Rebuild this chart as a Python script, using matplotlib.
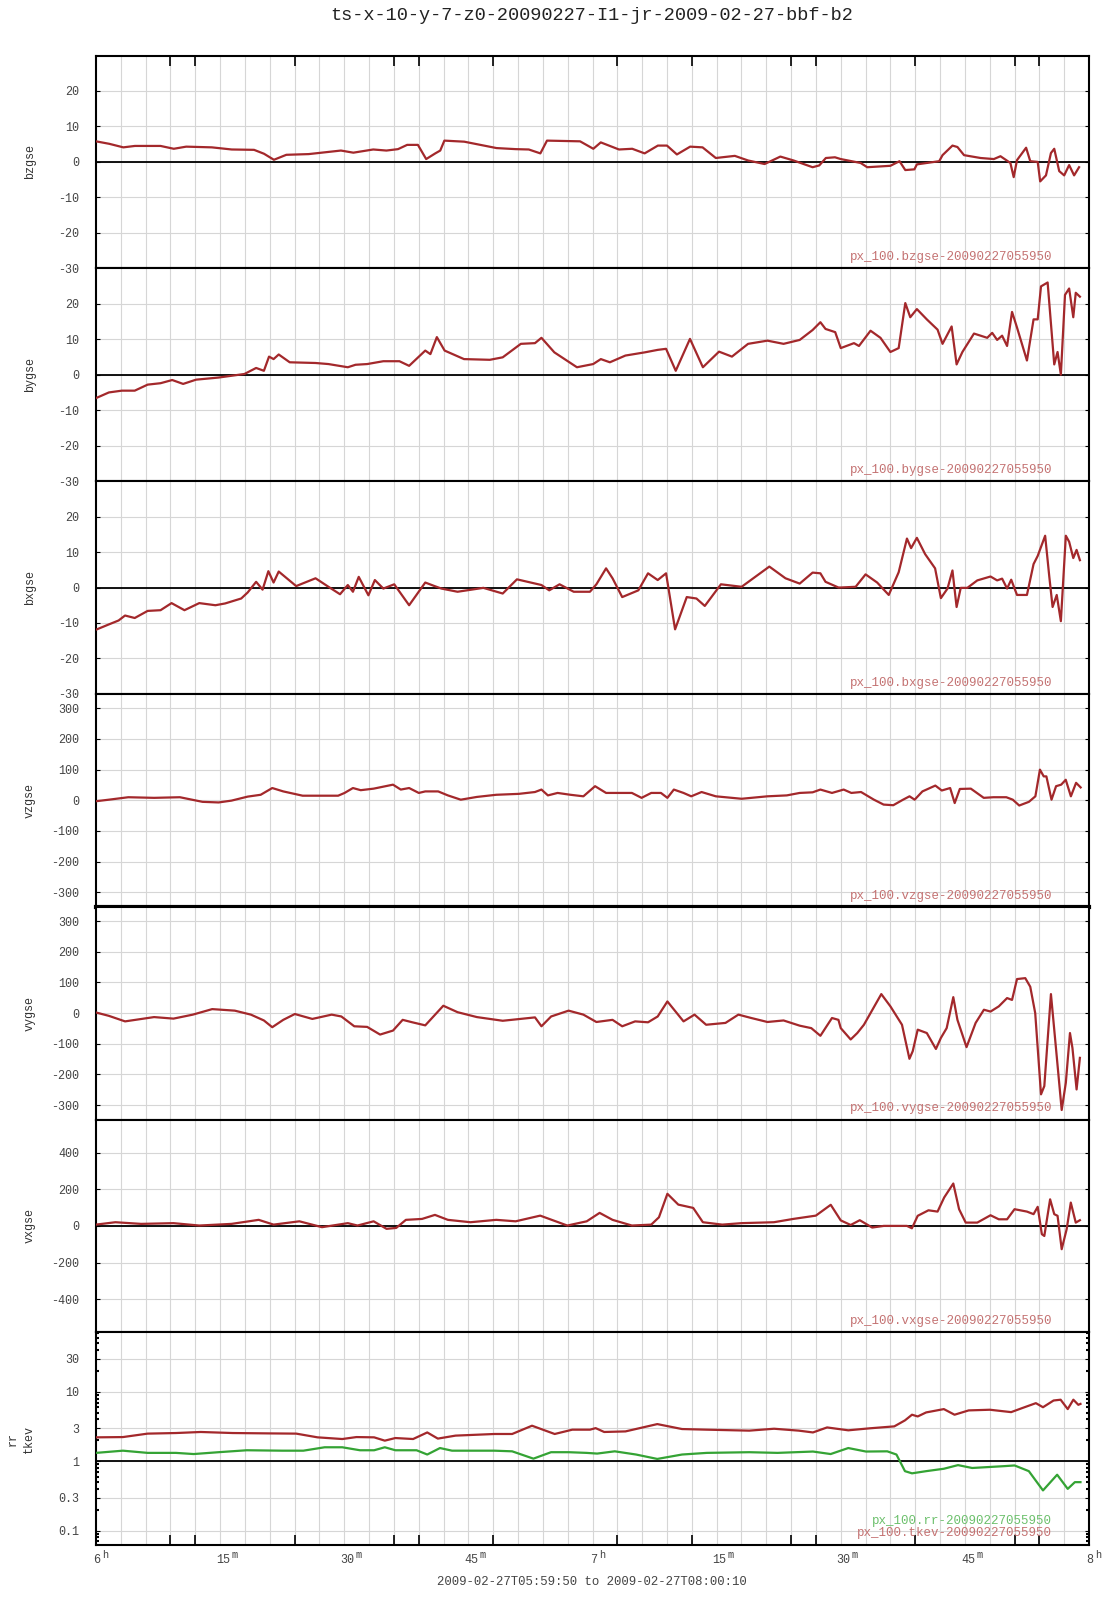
import numpy as np
import matplotlib
matplotlib.use('Agg')
import matplotlib.pyplot as plt
from matplotlib.ticker import FixedLocator, FixedFormatter, LogLocator, NullFormatter
from matplotlib.transforms import blended_transform_factory, offset_copy

plt.rcParams['font.family'] = ['Liberation Mono', 'DejaVu Sans Mono']

# ---- data: time in minutes after 06:00 UT ----
bz_t = [0.0, 1.6, 3.3, 4.7, 7.8, 9.4, 10.9, 14.0, 16.4, 19.1, 20.3, 21.5, 23.0, 25.7, 29.6, 31.1,
        33.5, 35.1, 36.5, 37.6, 38.9, 39.9, 41.0, 41.6, 42.1, 44.5, 48.4, 50.7, 52.3, 53.7, 54.5,
        58.5, 60.1, 61.0, 63.2, 64.8, 66.3, 67.9, 69.0, 70.2, 71.8, 73.3, 74.9, 77.2, 78.8, 80.8,
        82.7, 84.3, 86.6, 87.4, 88.2, 89.3, 90.0, 92.4, 93.2, 96.0, 97.1, 97.8, 98.9, 99.2, 101.9,
        102.3, 103.5, 104.1, 104.9, 106.9, 108.5, 109.3, 110.5, 110.9, 111.3, 112.4, 112.9, 113.8,
        114.1, 114.8, 115.4, 115.8, 116.4, 117.0, 117.6, 118.2, 118.8]
bz_v = [5.8, 5.1, 4.1, 4.5, 4.5, 3.7, 4.3, 4.1, 3.5, 3.4, 2.3, 0.6, 2.0, 2.2, 3.2, 2.6,
        3.5, 3.2, 3.6, 4.8, 4.8, 0.8, 2.4, 3.2, 6.0, 5.7, 3.9, 3.6, 3.5, 2.4, 6.0,
        5.8, 3.7, 5.5, 3.5, 3.7, 2.4, 4.6, 4.6, 2.1, 4.3, 4.1, 1.1, 1.7, 0.4, -0.6,
        1.5, 0.4, -1.5, -1.0, 1.1, 1.3, 0.8, -0.3, -1.5, -1.1, 0.2, -2.3, -2.1, -0.7, 0.2,
        1.9, 4.6, 4.2, 1.9, 1.1, 0.8, 1.6, -0.3, -4.3, 0.5, 4.0, 0.2, 0.0,
        -5.5, -3.8, 2.5, 3.7, -2.6, -3.8, -0.9, -3.8, -1.5]

by_t = [0.0, 1.56, 3.12, 4.68, 6.24, 7.8, 9.21, 10.53, 12.09, 14.82, 17.94, 19.35, 20.29, 20.91,
        21.46, 22.08, 23.41, 26.53, 28.09, 30.43, 31.36, 32.77, 34.72, 36.67, 37.84, 39.79, 40.41,
        41.19, 42.13, 44.47, 47.59, 49.15, 51.34, 53.05, 53.83, 55.39, 58.12, 60.08, 61.01, 62.1,
        63.98, 66.32, 67.88, 68.89, 70.06, 71.78, 73.34, 75.29, 76.85, 78.8, 81.14, 83.09, 85.04,
        86.6, 87.54, 88.16, 89.33,
        90.0, 91.6, 92.2, 93.6, 94.8, 96.0, 97.0, 97.8, 98.4, 99.2, 100.4, 101.7, 102.3, 103.4,
        104.0, 104.7, 106.1, 107.7, 108.3, 108.9, 109.5, 110.1, 110.7, 111.3, 112.5, 113.3, 113.8,
        114.2, 115.0, 115.8, 116.2, 116.6, 117.1, 117.6, 118.1, 118.4, 118.9]
by_v = [-6.6, -5.0, -4.5, -4.5, -2.8, -2.4, -1.5, -2.6, -1.4, -0.8, 0.2, 1.9, 1.1, 5.1,
        4.4, 5.7, 3.5, 3.3, 3.0, 2.1, 2.8, 3.0, 3.8, 3.8, 2.5, 6.8, 5.8,
        10.6, 6.8, 4.4, 4.2, 4.9, 8.7, 8.9, 10.4, 6.3, 2.1, 3.0, 4.4, 3.5,
        5.4, 6.3, 7.0, 7.3, 1.1, 10.1, 2.1, 6.5, 5.1, 8.7, 9.6, 8.7, 9.8,
        12.6, 14.8, 12.9, 12.0,
        7.5, 8.9, 8.1, 12.4, 10.4, 6.4, 7.5, 20.2, 16.2, 18.5, 15.6, 12.7, 8.7, 13.6,
        2.9, 6.4, 11.6, 10.4, 11.8, 9.8, 11.0, 8.1, 17.7, 13.3, 4.0, 15.6, 15.6,
        24.9, 26.0, 2.9, 6.4, 0.0, 22.5, 24.3, 16.2, 23.1, 22.0]

bx_t = [0.0, 1.56, 2.73, 3.51, 4.68, 6.24, 7.8, 9.13, 10.69, 12.48, 14.43, 15.6, 17.55, 18.33,
        19.35, 20.13, 20.83, 21.46, 22.08, 24.19, 26.53, 28.09, 29.49, 30.43, 31.05, 31.75, 32.92,
        33.7, 34.72, 36.04, 37.84, 39.79, 40.8, 41.74, 43.69, 46.81, 49.15, 50.87, 53.83, 54.77,
        56.02, 57.73, 59.69, 60.47, 61.64, 62.42, 63.59, 65.54, 66.71, 67.88, 68.89, 69.98, 71.39,
        72.56, 73.57, 75.52, 78.02, 81.37, 83.32, 85.04, 86.6, 87.54, 88.16, 89.72,
        90.0, 91.8, 93.0, 94.4, 95.8, 97.0, 98.0, 98.5, 99.2, 100.2, 101.4, 102.1, 102.9, 103.5,
        104.0, 104.5, 105.3, 106.5, 108.1, 108.9, 109.5, 110.1, 110.6, 111.3, 112.5, 113.3, 113.8,
        114.7, 115.2, 115.6, 116.1, 116.6, 117.2, 117.6, 118.1, 118.5, 118.9]
bx_v = [-11.9, -10.4, -9.3, -7.9, -8.6, -6.6, -6.4, -4.4, -6.4, -4.4, -5.0, -4.5, -3.1, -1.4,
        1.6, -0.6, 4.6, 1.4, 4.5, 0.4, 2.6, 0.2, -1.9, 0.7, -1.2, 3.0, -2.2,
        2.1, -0.3, 0.9, -5.0, 1.4, 0.5, -0.3, -1.2, -0.1, -1.7, 2.3, 0.7, -0.8,
        0.9, -1.2, -1.2, 0.9, 5.4, 2.6, -2.7, -0.8, 4.0, 2.1, 4.0, -11.8, -2.7,
        -3.1, -5.2, 0.9, 0.2, 5.9, 2.6, 1.1, 4.2, 4.0, 1.6, 0.0,
        0.0, 0.2, 3.7, 1.4, -2.1, 4.3, 13.8, 11.1, 14.0, 9.4, 5.4, -3.0, -0.3, 4.8,
        -5.5, -0.1, -0.1, 2.0, 3.1, 2.0, 2.5, -0.3, 2.2, -2.1, -2.1, 6.6, 8.9,
        14.6, 3.1, -5.5, -2.1, -9.5, 14.6, 12.9, 8.3, 10.6, 7.7]

vz_t = [0.0, 1.56, 3.9, 7.02, 10.14, 12.87, 14.82, 16.38, 18.33, 19.9, 21.3, 22.63, 24.97, 29.26,
        30.04, 31.05, 31.99, 33.55, 35.89, 36.83, 37.84, 39.01, 39.79, 41.35, 42.52, 44.08, 46.03,
        48.37, 51.1, 53.05, 53.83, 54.61, 55.78, 57.34, 58.9, 60.31, 61.64, 63.2, 64.76, 65.93,
        67.1, 68.27, 69.05, 69.83, 71.0, 71.93, 73.18, 74.9, 78.02, 81.14, 83.48, 85.04, 86.6,
        87.54, 88.94, 90.35, 91.28, 92.45, 94.01, 95.18, 96.35, 97.53, 98.31, 98.93, 99.87, 101.43,
        102.21, 103.22, 103.77, 104.39, 105.72, 107.28, 108.45, 110.01, 110.79, 111.57, 112.74,
        113.52, 114.07, 114.53, 114.85, 115.47, 116.02, 116.64, 117.19, 117.81, 118.44, 118.99]
vz_v = [-3, 2, 10, 8, 10, -5, -7, -1, 12, 18, 40, 29, 15, 15,
        24, 40, 33, 38, 51, 35, 40, 24, 29, 29, 16, 2, 11,
        18, 21, 27, 35, 16, 24, 18, 13, 46, 24, 24, 24, 8,
        24, 24, 8, 35, 24, 13, 27, 13, 5, 13, 16, 24, 26,
        35, 24, 35, 24, 27, 2, -14, -16, 2, 13, 2, 29, 48,
        32, 40, -9, 37, 38, 8, 10, 10, 2, -17, -5,
        13, 100, 78, 78, 2, 46, 51, 67, 13, 57, 42]

vy_t = [0.0, 1.56, 3.51, 7.02, 9.36, 11.7, 14.04, 16.77, 18.72, 20.29, 21.3, 22.63, 24.03, 26.14,
        28.48, 29.65, 31.21, 32.77, 34.33, 35.89, 37.06, 38.23, 39.79, 41.97, 43.69, 46.03, 49.15,
        53.05, 53.83, 55.0, 57.11, 58.9, 60.47, 62.42, 63.59, 65.15, 66.71, 67.88, 69.05, 71.0,
        72.33, 73.73, 76.07, 77.63, 79.19, 81.14, 83.09, 85.04, 86.44, 87.54, 88.94, 89.72,
        90.0, 91.2, 92.0, 92.8, 94.9, 96.0, 97.4, 98.3, 98.7, 99.3, 100.4, 101.5, 102.1, 102.8,
        103.6, 104.1, 105.2, 106.3, 107.3, 108.1, 109.1, 110.1, 110.7, 111.3, 112.3, 112.9, 113.5,
        114.2, 114.6, 115.4, 116.1, 116.7, 117.2, 117.7, 118.0, 118.5, 118.9]
vy_v = [2, -9, -27, -13, -18, -5, 13, 8, -5, -24, -46, -22, -3, -19,
        -5, -11, -43, -45, -70, -57, -22, -30, -40, 24, 3, -13, -25,
        -14, -43, -11, 8, -5, -29, -22, -43, -27, -30, -11, 38, -27,
        -5, -38, -32, -5, -16, -29, -24, -41, -49, -74, -16, -22,
        -49, -86, -65, -38, 62, 22, -38, -149, -124, -54, -65, -117, -81, -49,
        52, -22, -111, -32, 11, 5, 22, 49, 43, 111, 114, 86, 0,
        -265, -238, 62, -141, -316, -227, -65, -114, -249, -146]

vx_t = [0.0, 2.34, 5.46, 9.36, 12.48, 16.38, 19.66, 21.46, 24.58, 27.31, 30.43, 31.6, 33.55, 35.11,
        36.28, 37.45, 39.4, 40.96, 42.52, 45.25, 48.37, 50.71, 53.68, 56.95, 59.3, 60.86, 62.42,
        64.76, 67.1, 68.03, 69.05, 70.37, 72.17, 73.34, 75.68, 78.02, 81.92, 84.26, 86.99, 88.79,
        90.0, 91.2, 92.3, 93.8, 95.2, 98.0, 98.6, 99.3, 100.6, 101.7, 102.5, 103.6, 104.3, 105.1,
        106.5, 108.1, 109.1, 110.1, 111.0, 112.5, 113.3, 113.8, 114.3, 114.6, 115.3, 115.8, 116.2,
        116.7, 117.3, 117.8, 118.4, 118.9]
vx_v = [7, 20, 11, 15, 2, 11, 33, 7, 25, -7, 15, 2, 25, -16,
        -11, 33, 38, 60, 33, 20, 33, 25, 56, 2, 25, 71, 33,
        2, 7, 47, 175, 116, 98, 20, 7, 15, 20, 38, 56, 115,
        30, 5, 31, -9, 0, 0, -13, 55, 85, 78, 155, 231, 91, 18,
        18, 58, 36, 36, 91, 78, 64, 104, -45, -55, 145, 64, 55,
        -127, -18, 127, 18, 31]

tkev_t = [0.0, 3.25, 6.24, 9.66, 12.66, 16.51, 20.78, 24.2, 26.77, 29.76, 31.47, 33.61, 34.9, 36.18,
          38.32, 40.03, 41.31, 43.45, 48.15, 50.29, 52.69, 55.43, 57.56, 59.7, 60.38, 61.41, 63.98,
          67.83, 70.82, 73.81, 78.94, 81.94, 84.93, 86.64, 88.35, 90.91, 93.48, 96.47, 97.76, 98.61,
          99.3, 100.32, 102.46, 103.75, 105.46, 108.02, 110.59, 111.87, 113.58, 114.44, 115.72,
          116.57, 117.43, 118.11, 118.71, 118.97]
tkev_v = [2.21, 2.23, 2.5, 2.55, 2.64, 2.55, 2.52, 2.5, 2.21, 2.09, 2.23, 2.21, 1.98, 2.16,
          2.09, 2.6, 2.12, 2.34, 2.47, 2.47, 3.25, 2.47, 2.85, 2.85, 3.0, 2.64, 2.69,
          3.43, 2.91, 2.85, 2.76, 2.94, 2.76, 2.6, 3.07, 2.79, 2.98, 3.18, 3.88, 4.68,
          4.42, 5.05, 5.64, 4.68, 5.4, 5.52, 5.1, 5.8, 6.87, 6.0, 7.5,
          7.7, 5.64, 7.7, 6.5, 6.7]

rr_t = [0.0, 3.25, 6.24, 9.66, 11.8, 14.8, 18.22, 22.49, 25.06, 27.63, 29.76, 31.9, 33.61, 34.9,
        36.18, 38.74, 40.03, 41.57, 43.02, 48.15, 50.29, 52.86, 54.99, 57.14, 59.27, 60.56, 62.69,
        65.26, 67.83, 70.82, 73.81, 78.94, 82.36, 86.64, 88.78, 90.91, 93.05, 95.62, 96.73, 97.76,
        98.61, 100.32, 102.46, 104.17, 105.88, 109.73, 111.01, 112.73, 114.44, 116.15, 117.43,
        118.29, 118.97]
rr_v = [1.32, 1.42, 1.32, 1.32, 1.27, 1.35, 1.44, 1.42, 1.42, 1.59, 1.59, 1.44, 1.44, 1.59,
        1.44, 1.44, 1.25, 1.55, 1.42, 1.42, 1.39, 1.09, 1.35, 1.35, 1.32, 1.29, 1.39,
        1.25, 1.08, 1.25, 1.32, 1.35, 1.32, 1.38, 1.27, 1.55, 1.38, 1.39, 1.25, 0.72,
        0.67, 0.72, 0.78, 0.88, 0.8, 0.85, 0.87, 0.72, 0.38, 0.64, 0.40,
        0.5, 0.5]

x_ticks = [0, 15, 30, 45, 60, 75, 90, 105, 120]
x_nums = ['6', '15', '30', '45', '7', '15', '30', '45', '8']
x_sups = ['h', 'm', 'm', 'm', 'h', 'm', 'm', 'm', 'h']
odd_ticks = [9, 12, 24, 36, 39, 48, 60, 63, 72, 75, 84, 87, 99, 111, 114]

RED = '#a3282b'
GREEN = '#34a334'
TXT_RED = '#c47272'
TXT_GREEN = '#6cc06c'
GRID = '#d6d6d6'

# name, times, values, ylim, yticks, zero line
panels = [
    ('bzgse', bz_t, bz_v, (-30, 30), [-30, -20, -10, 0, 10, 20], True),
    ('bygse', by_t, by_v, (-30, 30), [-30, -20, -10, 0, 10, 20], True),
    ('bxgse', bx_t, bx_v, (-30, 30), [-30, -20, -10, 0, 10, 20], True),
    ('vzgse', vz_t, vz_v, (-347, 347), [-300, -200, -100, 0, 100, 200, 300], False),
    ('vygse', vy_t, vy_v, (-347, 347), [-300, -200, -100, 0, 100, 200, 300], False),
    ('vxgse', vx_t, vx_v, (-580, 580), [-400, -200, 0, 200, 400], True),
]

W, H = 1107, 1600
X0, X1 = 96, 1089
TOP, PH = 55.5, 212.8

fig = plt.figure(figsize=(W / 100, H / 100), dpi=100)
fig.patch.set_facecolor('white')


def make_axes(i):
    ax = fig.add_axes([X0 / W, 1 - (TOP + (i + 1) * PH) / H, (X1 - X0) / W, PH / H])
    ax.set_xlim(0, 120)
    for m in range(3, 120, 3):
        ax.axvline(m, color=GRID, lw=0.8, zorder=0)
    for s in ax.spines.values():
        s.set_color('black')
        s.set_linewidth(1.5)
    ax.set_xticks(x_ticks)
    ax.set_xticks(odd_ticks, minor=True)
    ax.tick_params(axis='x', which='major', length=0, labelbottom=False)
    ax.tick_params(axis='x', which='minor', direction='in', length=7, width=1.2,
                   top=(i == 0), bottom=(i == 6))
    ax.tick_params(axis='y', which='both', direction='in', length=3, left=True, right=True,
                   labelsize=8.5, labelcolor='#444444', pad=12)
    ax.grid(axis='y', which='major', color=GRID, lw=0.8)
    ax.set_axisbelow(True)
    return ax


axes = []
for i, (name, t, v, ylim, yt, zero) in enumerate(panels):
    ax = make_axes(i)
    ax.set_ylim(*ylim)
    ax.set_yticks(yt)
    ax.set_yticklabels([str(k) for k in yt])
    if zero:
        ax.axhline(0, color='black', lw=1.3, zorder=2)
    ax.plot(t, v, color=RED, lw=1.6, zorder=3)
    ax.text(0.963, 0.052, 'px_100.' + name + '-20090227055950', transform=ax.transAxes,
            ha='right', va='center', fontsize=9, color=TXT_RED)
    cy = TOP + (i + 0.5) * PH
    fig.text(30 / W, 1 - cy / H, name, rotation=90, ha='center', va='center',
             fontsize=8.5, color='#333333')
    axes.append(ax)

axes[3].spines['bottom'].set_linewidth(3)

# log panel
ax = make_axes(6)
ax.set_yscale('log')
ax.set_ylim(0.062, 72)
ax.yaxis.set_major_locator(FixedLocator([0.1, 0.3, 1, 3, 10, 30]))
ax.yaxis.set_major_formatter(FixedFormatter(['0.1', '0.3', '1', '3', '10', '30']))
ax.yaxis.set_minor_locator(LogLocator(subs=np.arange(2, 10)))
ax.yaxis.set_minor_formatter(NullFormatter())
ax.tick_params(axis='y', which='minor', direction='in', length=2, width=1.5)
ax.axhline(1, color='black', lw=1.3, zorder=2)
ax.plot(tkev_t, tkev_v, color=RED, lw=1.6, zorder=3)
ax.plot(rr_t, rr_v, color=GREEN, lw=1.6, zorder=3)
ax.text(0.963, 0.113, 'px_100.rr-20090227055950', transform=ax.transAxes,
        ha='right', va='center', fontsize=9, color=TXT_GREEN)
ax.text(0.963, 0.056, 'px_100.tkev-20090227055950', transform=ax.transAxes,
        ha='right', va='center', fontsize=9, color=TXT_RED)

# time labels with superscript unit letters
base = blended_transform_factory(ax.transData, ax.transAxes)
for m, num, sup in zip(x_ticks, x_nums, x_sups):
    ax.text(m, 0, num, transform=offset_copy(base, fig=fig, x=2 * len(num) - 1, y=-15, units='dots'),
            ha='center', va='center', fontsize=8.5, color='#444444', clip_on=False)
    ax.text(m, 0, sup, transform=offset_copy(base, fig=fig, x=4.6 * len(num) + 2, y=-10, units='dots'),
            ha='left', va='center', fontsize=7.5, color='#444444', clip_on=False)

cy = TOP + 6.5 * PH
fig.text(21 / W, 1 - cy / H, 'rr\ntkev', rotation=90, ha='center', va='center',
         fontsize=8.5, color='#333333', linespacing=1.5)

fig.text(592 / W, 1 - 15 / H, 'ts-x-10-y-7-z0-20090227-I1-jr-2009-02-27-bbf-b2',
         ha='center', va='center', fontsize=13.4, color='#222222')
fig.text(592 / W, 1 - 1582 / H, '2009-02-27T05:59:50 to 2009-02-27T08:00:10',
         ha='center', va='center', fontsize=8.9, color='#444444')

fig.savefig('out.png', dpi=100, facecolor='white')
